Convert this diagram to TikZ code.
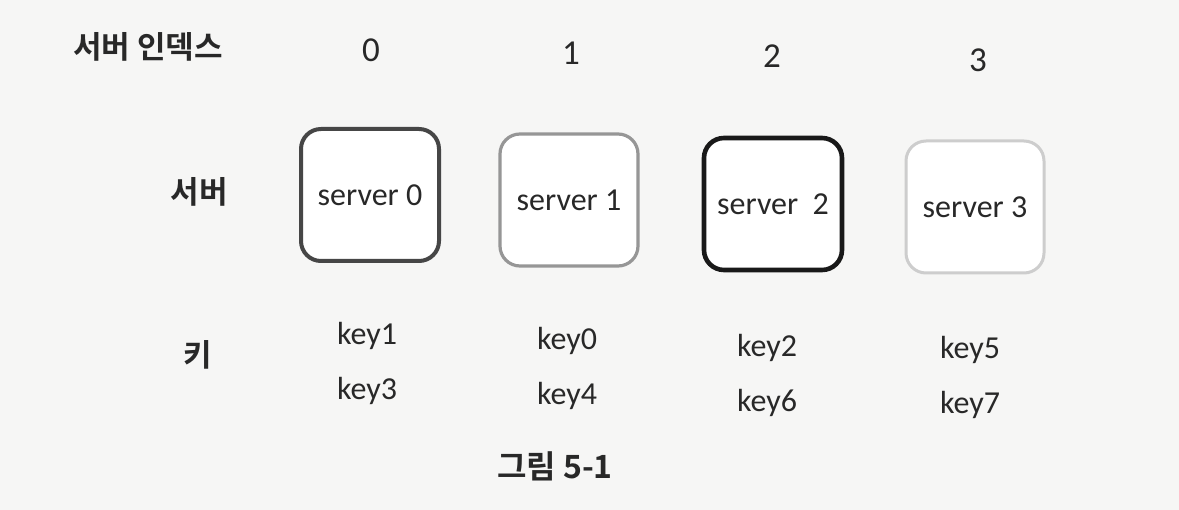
\documentclass[tikz,border=0pt]{standalone}
\usepackage{fontspec}
\setmainfont{Carlito}
\newfontfamily\krfont{Noto Sans CJK KR}[BoldFont={Noto Sans CJK KR Bold}]
\usetikzlibrary{%
	positioning,%
}
\definecolor{cpaper}{RGB}{246, 246, 245}
\definecolor{cink}{RGB}{40, 40, 40}
\definecolor{cgrayzero}{RGB}{70, 70, 70}
\definecolor{cgrayone}{RGB}{150, 150, 150}
\definecolor{cgraytwo}{RGB}{25, 25, 25}
\definecolor{cgraythree}{RGB}{205, 205, 205}
\tikzset{
	nodes={align=center, text=cink},%
	server/.style={%
			draw,%
			rectangle,%
			rounded corners=20pt,%
			minimum width=138pt,%
			minimum height=132pt,%
			inner sep=0pt,%
			fill=white,%
			font={\fontsize{32}{38}\selectfont}},%
	rowlabel/.style={%
			inner sep=0pt,%
			font={\krfont\bfseries\fontsize{31}{36}\selectfont}},%
	keynode/.style={%
			inner sep=0pt,%
			text height=22pt,%
			text depth=8pt,%
			font={\fontsize{32}{38}\selectfont}},%
	indexnode/.style={%
			inner sep=0pt,%
			font={\fontsize{35}{40}\selectfont}},%
}

\begin{document}
\begin{tikzpicture}[x=1pt, y=-1pt]%
	\fill[cpaper] (0,0) rectangle (1179,510);
	\useasboundingbox (0,0) rectangle (1179,510);

	% row labels
	\node[rowlabel] (lblindex) at (148,47) {서버 인덱스};
	\node[rowlabel] (lblserver) at (199,192) {서버};
	\node[rowlabel] (lblkey) at (198,355) {키};

	% server index
	\node[indexnode] (idx0) at (371,50) {0};
	\node[indexnode] (idx1) at (571,53) {1};
	\node[indexnode] (idx2) at (772,56) {2};
	\node[indexnode] (idx3) at (978,60) {3};

	% servers
	\node[server, draw=cgrayzero, line width=4pt] (srv0) at (370,195) {server 0};
	\node[server, draw=cgrayone, line width=3.2pt] (srv1) at (569,200) {server 1};
	\node[server, draw=cgraytwo, line width=4.6pt] (srv2) at (773,204) {server\ \ 2};
	\node[server, draw=cgraythree, line width=3pt] (srv3) at (975,207) {server 3};

	% keys
	\node[keynode] (k1) at (367,338) {key1};
	\node[keynode] (k3) [below=24pt of k1] {key3};
	\node[keynode] (k0) at (567,343) {key0};
	\node[keynode] (k4) [below=24pt of k0] {key4};
	\node[keynode] (k2) at (767,350) {key2};
	\node[keynode] (k6) [below=24pt of k2] {key6};
	\node[keynode] (k5) at (970,352) {key5};
	\node[keynode] (k7) [below=24pt of k5] {key7};

	% caption
	\node[rowlabel, font={\krfont\bfseries\fontsize{32}{38}\selectfont}] (caption) at (555,466) {그림 5-1};
\end{tikzpicture}
\end{document}
